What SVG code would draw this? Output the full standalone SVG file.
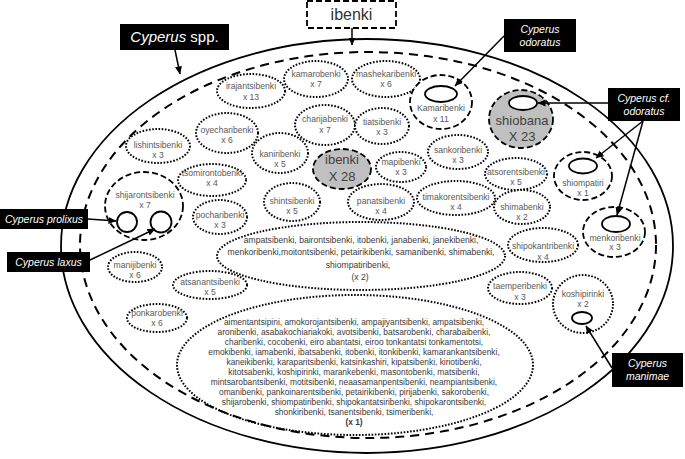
<svg xmlns="http://www.w3.org/2000/svg" width="685" height="459" viewBox="0 0 685 459">
<defs>
<marker id="ah" markerUnits="userSpaceOnUse" markerWidth="8" markerHeight="8" refX="7.5" refY="4" orient="auto">
<path d="M0,0.5 L8,4 L0,7.5 z" fill="#000"/>
</marker>
<style>
.dot{fill:#fff;stroke:#000;stroke-width:2;stroke-dasharray:1.6 1.6}
.dotb{fill:none;stroke:#000;stroke-width:2;stroke-dasharray:1.6 1.6}
.dash{fill:#fff;stroke:#000;stroke-width:1.8;stroke-dasharray:6 3}
.gray{fill:#c0c0c0;stroke:#000;stroke-width:1.8;stroke-dasharray:6 3}
.inner{fill:#fff;stroke:#000;stroke-width:1.8}
.lbl{font-family:"Liberation Sans",Arial,sans-serif;font-size:8.6px;fill:#595959;text-anchor:middle}
.blk{font-family:"Liberation Sans",Arial,sans-serif;font-size:8.4px;fill:#3a3a3a;text-anchor:middle}
.big{font-family:"Liberation Sans",Arial,sans-serif;font-size:13px;fill:#404040;text-anchor:middle}
.box{fill:#000}
.bt{font-family:"Liberation Sans",Arial,sans-serif;font-style:italic;font-size:10.5px;fill:#fff;text-anchor:middle}
.conn{fill:none;stroke:#000;stroke-width:1.5;marker-end:url(#ah)}
</style>
</defs>
<rect width="685" height="459" fill="#fff"/>
<g id="outer">
<ellipse cx="367" cy="246" rx="306" ry="207" fill="none" stroke="#000" stroke-width="1.8"/>
<ellipse cx="368" cy="245" rx="288" ry="193" fill="none" stroke="#000" stroke-width="2" stroke-dasharray="9 6"/>
</g>
<g id="n-irajantsibenki"><ellipse class="dot" cx="251" cy="91" rx="34" ry="17"/><text class="lbl" x="251" y="89">irajantsibenki</text><text class="lbl" x="251" y="100">x 13</text></g>
<g id="n-kamarobenki"><ellipse class="dot" cx="316" cy="79" rx="32" ry="18"/><text class="lbl" x="316" y="77">kamarobenki</text><text class="lbl" x="316" y="87">x 7</text></g>
<g id="n-mashekaribenki"><ellipse class="dot" cx="386" cy="79" rx="34" ry="18"/><text class="lbl" x="386" y="77">mashekaribenki</text><text class="lbl" x="386" y="87">x 6</text></g>
<g id="n-charijabenki"><ellipse class="dot" cx="325" cy="125" rx="30" ry="20"/><text class="lbl" x="325" y="122">charijabenki</text><text class="lbl" x="325" y="133">x 7</text></g>
<g id="n-tiatsibenki"><ellipse class="dot" cx="382" cy="126" rx="27" ry="18"/><text class="lbl" x="382" y="125">tiatsibenki</text><text class="lbl" x="382" y="135">x 3</text></g>
<g id="n-oyecharibenki"><ellipse class="dot" cx="227" cy="133" rx="31" ry="20"/><text class="lbl" x="227" y="133">oyecharibenki</text><text class="lbl" x="227" y="143">x 6</text></g>
<g id="n-lishintsibenki"><ellipse class="dot" cx="158" cy="146" rx="32" ry="17"/><text class="lbl" x="158" y="148">lishintsibenki</text><text class="lbl" x="158" y="158">x 3</text></g>
<g id="n-kaniribenki"><ellipse class="dot" cx="280" cy="153" rx="28" ry="20"/><text class="lbl" x="280" y="157">kaniribenki</text><text class="lbl" x="280" y="167">x 5</text></g>
<g id="n-tsomirontobenki"><ellipse class="dot" cx="212" cy="180" rx="34" ry="16"/><text class="lbl" x="212" y="176">tsomirontobenki</text><text class="lbl" x="212" y="186">x 4</text></g>
<g id="n-shijarontsibenki"><ellipse class="dash" cx="144" cy="206" rx="39" ry="34"/><text class="lbl" x="145" y="198">shijarontsibenki</text><text class="lbl" x="145" y="208">x 7</text><circle class="inner" cx="127" cy="222" r="10"/><circle class="inner" cx="161" cy="222" r="10.5"/></g>
<g id="n-pocharibenki"><ellipse class="dot" cx="220" cy="217" rx="27" ry="17"/><text class="lbl" x="220" y="218">pocharibenki</text><text class="lbl" x="220" y="228">x 3</text></g>
<g id="n-manijibenki"><ellipse class="dot" cx="135" cy="267" rx="27" ry="15"/><text class="lbl" x="135" y="268">manijibenki</text><text class="lbl" x="135" y="278">x 6</text></g>
<g id="n-atsanantsibenki"><ellipse class="dot" cx="210" cy="285" rx="37" ry="14"/><text class="lbl" x="210" y="285">atsanantsibenki</text><text class="lbl" x="210" y="295">x 5</text></g>
<g id="n-ponkarobenki"><ellipse class="dot" cx="157" cy="318" rx="30" ry="14"/><text class="lbl" x="157" y="316">ponkarobenki</text><text class="lbl" x="157" y="326">x 6</text></g>
<g id="n-shintsibenki"><ellipse class="dot" cx="292" cy="202" rx="28" ry="19"/><text class="lbl" x="292" y="204">shintsibenki</text><text class="lbl" x="292" y="214">x 5</text></g>
<g id="n-panatsibenki"><ellipse class="dot" cx="381" cy="202" rx="33" ry="18"/><text class="lbl" x="381" y="204">panatsibenki</text><text class="lbl" x="381" y="214">x 4</text></g>
<g id="n-mapibenki"><ellipse class="dot" cx="401" cy="167" rx="25" ry="15"/><text class="lbl" x="401" y="165">mapibenki</text><text class="lbl" x="401" y="175">x 3</text></g>
<g id="n-sankoribenki"><ellipse class="dot" cx="458" cy="152" rx="30" ry="17"/><text class="lbl" x="458" y="153">sankoribenki</text><text class="lbl" x="458" y="163">x 3</text></g>
<g id="n-atsorentsibenki"><ellipse class="dot" cx="516" cy="174" rx="31" ry="16"/><text class="lbl" x="516" y="175">atsorentsibenki</text><text class="lbl" x="516" y="185">x 5</text></g>
<g id="n-timakorentsibenki"><ellipse class="dot" cx="456" cy="198" rx="39" ry="17"/><text class="lbl" x="456" y="200">timakorentsibenki</text><text class="lbl" x="456" y="210">x 4</text></g>
<g id="n-shimabenki"><ellipse class="dot" cx="522" cy="207" rx="28" ry="17"/><text class="lbl" x="522" y="210">shimabenki</text><text class="lbl" x="522" y="220">x 2</text></g>
<g id="n-shipokantribenki"><ellipse class="dot" cx="543" cy="245" rx="35" ry="17"/><text class="lbl" x="543" y="249">shipokantribenki</text><text class="lbl" x="543" y="260">x 4</text></g>
<g id="n-taemperibenki"><ellipse class="dot" cx="520" cy="288" rx="32" ry="16"/><text class="lbl" x="520" y="289">taemperibenki</text><text class="lbl" x="520" y="300">x 3</text></g>
<g id="n-koshipirinki"><ellipse class="dot" cx="583" cy="304" rx="30" ry="29"/><text class="lbl" x="583" y="297">koshipirinki</text><text class="lbl" x="583" y="307">x 2</text><ellipse class="inner" cx="582" cy="318" rx="10" ry="6"/></g>
<g id="n-kamaribenki"><ellipse class="dash" cx="441" cy="102" rx="31" ry="27"/><ellipse class="inner" cx="441" cy="94" rx="16" ry="8"/><text class="lbl" x="441" y="111">Kamaribenki</text><text class="lbl" x="441" y="122">x 11</text></g>
<g id="n-shiompatiri"><ellipse class="dash" cx="583" cy="176" rx="29" ry="24"/><ellipse class="inner" cx="583" cy="166" rx="14" ry="7.5"/><text class="lbl" x="583" y="186">shiompatiri</text><text class="lbl" x="583" y="196">x 1</text></g>
<g id="n-menkoribenki"><ellipse class="dash" cx="614" cy="232" rx="31" ry="25"/><ellipse class="inner" cx="616" cy="224" rx="14" ry="8"/><text class="lbl" x="615" y="241">menkoribenki</text><text class="lbl" x="615" y="250">x 3</text></g>
<g id="n-ibenki"><ellipse class="gray" cx="342" cy="169" rx="29" ry="20"/><text class="big" x="342" y="164">ibenki</text><text class="big" x="342" y="181">X 28</text></g>
<g id="n-shiobana"><ellipse class="gray" cx="521" cy="119" rx="32" ry="29"/><ellipse class="inner" cx="523" cy="103" rx="14" ry="7"/><text class="big" x="522" y="125">shiobana</text><text class="big" x="522" y="141">X 23</text></g>
<g id="n-x2-group"><ellipse class="dotb" cx="361" cy="256" rx="144" ry="34"/>
<text class="lbl" fill="#3a3a3a" style="fill:#3a3a3a" x="361" y="243">ampatsibenki, bairontsibenki, itobenki, janabenki, janekibenki,</text>
<text class="lbl" style="fill:#3a3a3a" x="361" y="255">menkoribenki,moitontsibenki, petairikibenki, samanibenki, shimabenki,</text>
<text class="lbl" style="fill:#3a3a3a" x="358" y="268">shiompatiribenki,</text>
<text class="lbl" style="fill:#3a3a3a" x="360" y="280">(x 2)</text></g>
<g id="n-x1-group"><ellipse class="dotb" cx="355" cy="365" rx="178" ry="70"/>
<text class="blk" x="354" y="325">aimentantsipini, amokorojantsibenki, ampajiyantsibenki, ampatsibenki,</text>
<text class="blk" x="354" y="335">aronibenki, asabakochiariakoki, avotsibenki, batsarobenki, charabaibenki,</text>
<text class="blk" x="354" y="345">charibenki, cocobenki, eiro abantatsi, eiroo tonkantatsi tonkamentotsi,</text>
<text class="blk" x="354" y="355">emokibenki, iamabenki, ibatsabenki, itobenki, itonkibenki, kamarankantsibenki,</text>
<text class="blk" x="354" y="365">kaneikibenki, karaparitsibenki,  katsinkashiri, kipatsibenki, kiriotibenki,</text>
<text class="blk" x="354" y="375">kitotsabenki, koshipirinki, marankebenki, masontobenki, matsibenki,</text>
<text class="blk" x="354" y="385">mintsarobantsibenki, motitsibenki, neaasamanpentsibenki, neampiantsibenki,</text>
<text class="blk" x="354" y="395">omanibenki, pankoinarentsibenki, petairikibenki, pirijabenki, sakorobenki,</text>
<text class="blk" x="354" y="405">shijarobenki, shiompatiribenki, shipokantatsiribenki, shipokarontsibenki,</text>
<text class="blk" x="354" y="415">shonkiribenki, tsanentsibenki, tsimeribenki,</text>
<text class="blk" x="354" y="425" font-weight="bold">(x 1)</text></g>
<g id="label-spp"><rect class="box" x="120" y="24" width="109" height="26"/><text x="174.5" y="42" font-family="Liberation Sans, Arial, sans-serif" font-size="15" fill="#fff" text-anchor="middle"><tspan font-style="italic">Cyperus</tspan> spp.</text></g>
<g id="label-ibenki"><rect x="307" y="1" width="89" height="27" fill="#fff" stroke="#000" stroke-width="1.8" stroke-dasharray="6 3"/><text x="351.5" y="20" font-family="Liberation Sans, Arial, sans-serif" font-size="16" fill="#333" text-anchor="middle">ibenki</text></g>
<g id="label-odoratus"><rect class="box" x="504" y="19" width="72" height="33"/><text class="bt" x="540" y="33">Cyperus</text><text class="bt" x="540" y="46">odoratus</text></g>
<g id="label-cf-odoratus"><rect class="box" x="608" y="88" width="72" height="33"/><text class="bt" x="644" y="102">Cyperus cf.</text><text class="bt" x="644" y="115">odoratus</text></g>
<g id="label-prolixus"><rect class="box" x="0" y="209" width="88" height="20"/><text class="bt" x="44" y="223">Cyperus prolixus</text></g>
<g id="label-laxus"><rect class="box" x="7" y="252" width="83" height="20"/><text class="bt" x="48.5" y="266">Cyperus laxus</text></g>
<g id="label-manimae"><rect class="box" x="612" y="353" width="71" height="34"/><text class="bt" x="647.5" y="367">Cyperus</text><text class="bt" x="647.5" y="380">manimae</text></g>
<g id="connectors">
<line class="conn" x1="175" y1="50" x2="180" y2="74"/>
<line class="conn" x1="352" y1="28" x2="352" y2="45"/>
<line class="conn" x1="504" y1="36" x2="455" y2="86"/>
<line class="conn" x1="608" y1="103" x2="538" y2="103"/>
<line class="conn" x1="643" y1="121" x2="596" y2="158"/>
<line class="conn" x1="643" y1="121" x2="617" y2="215"/>
<line class="conn" x1="88" y1="219" x2="116" y2="221"/>
<line class="conn" x1="90" y1="260" x2="155" y2="229"/>
<line class="conn" x1="612" y1="368" x2="586" y2="326"/>
</g>
</svg>
